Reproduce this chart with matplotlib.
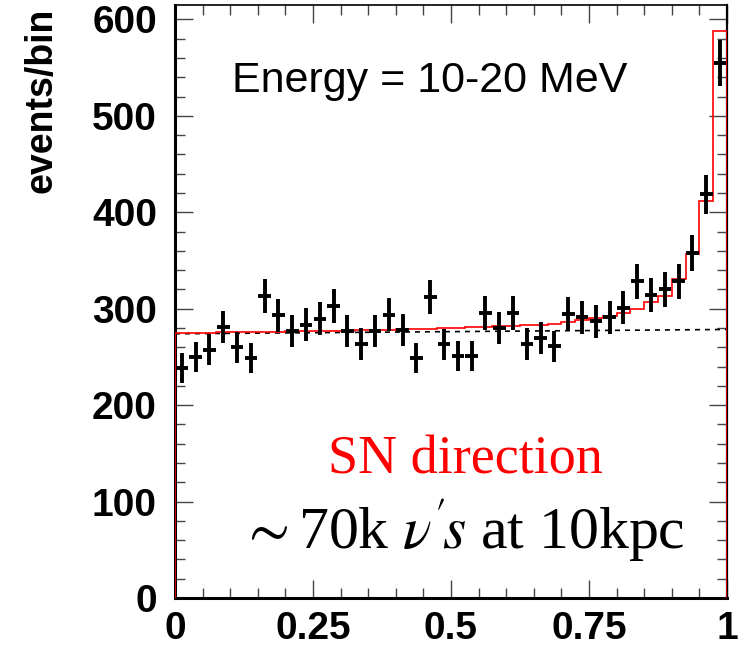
import numpy as np
import matplotlib.pyplot as plt
from matplotlib.ticker import MultipleLocator, FuncFormatter

# 40 bins in cos(theta) from 0 to 1
edges = np.linspace(0, 1, 41)

counts = [238.5, 250, 257.5, 281, 260, 249, 313, 293, 276.5, 283.5,
          289.5, 303, 277, 263.5, 277, 294, 278, 249, 312, 263,
          251, 251, 295.5, 280, 295.5, 263.5, 270, 261, 294.5, 291,
          287, 291, 301, 328.5, 314.5, 320, 328.5, 358, 418.5, 555]

model = [275.0, 275.1, 275.3, 275.4, 275.6, 275.8, 276.0, 276.2, 276.4, 276.6,
         276.8, 277.1, 277.4, 277.7, 278.0, 278.3, 278.6, 279.0, 279.4, 279.8,
         280.2, 280.6, 281.1, 281.6, 282.1, 282.7, 283.3, 284.5, 286.0, 288.0,
         290.0, 292.0, 295.5, 300.0, 306.5, 313.5, 331.0, 357.0, 411.5, 588.0]

flat_x = [0, 1]
flat_y = [274, 278.5]

centers = 0.5 * (edges[:-1] + edges[1:])
counts = np.array(counts)

plt.rcParams['mathtext.fontset'] = 'stix'

fig = plt.figure(figsize=(7.5, 6.56), dpi=100)
ax = fig.add_axes((0.2333, 0.0884, 0.736, 0.904))

ax.plot(flat_x, flat_y, color='black', lw=1.2, ls=(0, (3, 3)), zorder=2)
ax.stairs(model, edges, baseline=0, color='red', lw=1.2, zorder=3)
ax.errorbar(centers, counts, yerr=np.sqrt(counts), xerr=0.0115, fmt='none',
            ecolor='black', elinewidth=2.8, capsize=0, zorder=4)

ax.set_xlim(0, 1)
ax.set_ylim(0, 615)
ax.xaxis.set_major_locator(MultipleLocator(0.25))
ax.xaxis.set_minor_locator(MultipleLocator(0.05))
ax.yaxis.set_major_locator(MultipleLocator(100))
ax.yaxis.set_minor_locator(MultipleLocator(20))
ax.xaxis.set_major_formatter(FuncFormatter(lambda v, p: '%g' % v))
ax.yaxis.set_major_formatter(FuncFormatter(lambda v, p: '%d' % v))

ax.tick_params(which='both', direction='in', top=True, right=True,
               width=1, color='#444444')
ax.tick_params(which='major', length=13)
ax.tick_params(which='minor', length=7)
ax.tick_params(axis='y', pad=13)
ax.tick_params(axis='x', pad=9)
for lab in ax.get_xticklabels() + ax.get_yticklabels():
    lab.set_fontfamily('Liberation Sans')
    lab.set_fontweight('bold')
    lab.set_fontsize(28)

ax.spines['left'].set_linewidth(2.2)
ax.spines['bottom'].set_linewidth(2.2)
ax.spines['top'].set_linewidth(1.2)
ax.spines['right'].set_linewidth(1.6)

fig.text(0.056, 0.989, 'events/bin', rotation=90, ha='center', va='top',
         fontfamily='Liberation Sans', fontweight='bold', fontsize=27)

fig.text(232 / 750, 1 - 92 / 656, 'Energy = 10-20 MeV', ha='left', va='baseline',
         fontfamily='Liberation Sans', fontsize=31)

fig.text(465 / 750, 1 - 473 / 656, 'SN direction', ha='center', va='baseline',
         fontfamily='Liberation Serif', fontsize=39, color='red')
fig.text(462 / 750, 1 - 548 / 656, r'$\sim$70k $\nu^{\prime}\!s$ at 10kpc', ha='center',
         va='baseline', fontfamily='Liberation Serif', fontsize=43, color='black')

fig.savefig('out.png', dpi=100)
